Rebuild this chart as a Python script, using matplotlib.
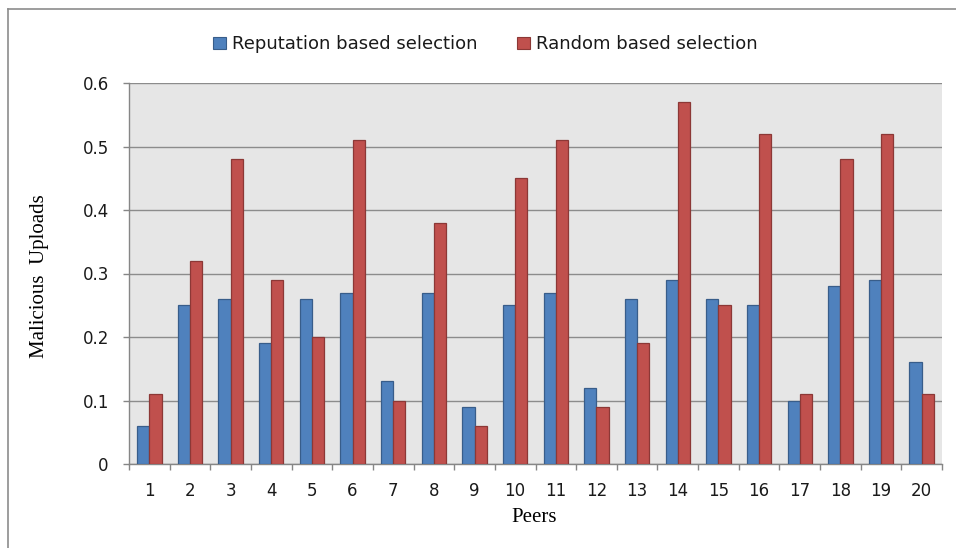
import matplotlib
matplotlib.use("Agg")
import matplotlib.pyplot as plt
import numpy as np
from matplotlib.patches import Patch
from matplotlib.lines import Line2D

peers = [str(i) for i in range(1, 21)]
reputation = [0.06, 0.25, 0.26, 0.19, 0.26, 0.27, 0.13, 0.27, 0.09, 0.25,
              0.27, 0.12, 0.26, 0.29, 0.26, 0.25, 0.10, 0.28, 0.29, 0.16]
random_sel = [0.11, 0.32, 0.48, 0.29, 0.20, 0.51, 0.10, 0.38, 0.06, 0.45,
              0.51, 0.09, 0.19, 0.57, 0.25, 0.52, 0.11, 0.48, 0.52, 0.11]
yticks = [0, 0.1, 0.2, 0.3, 0.4, 0.5, 0.6]
ytick_labels = ["0", "0.1", "0.2", "0.3", "0.4", "0.5", "0.6"]

blue, blue_edge = "#4f81bd", "#385d8a"
red, red_edge = "#c0504d", "#8c3836"

fig = plt.figure(figsize=(9.56, 5.48), dpi=100)
ax = fig.add_axes([129/956, 1-464/548, (942-129)/956, (464-83)/548])
ax.set_facecolor("#e6e6e6")

x = np.arange(len(peers))
w = 0.3
ax.bar(x - w/2, reputation, w, color=blue, edgecolor=blue_edge, linewidth=0.9, zorder=3)
ax.bar(x + w/2, random_sel, w, color=red, edgecolor=red_edge, linewidth=0.9, zorder=3)

ax.set_xlim(-0.5, len(peers) - 0.5)
ax.set_ylim(0, 0.6)
ax.set_yticks(yticks)
ax.set_yticklabels(ytick_labels)
ax.yaxis.grid(True, color="#8c8c8c", linewidth=1.0, zorder=0)
ax.set_axisbelow(True)

ax.set_xticks(x)
ax.set_xticklabels(peers)
ax.set_xticks(np.arange(-0.5, len(peers) + 0.5, 1), minor=True)
ax.tick_params(axis="x", which="major", length=0, pad=13, labelsize=12)
ax.tick_params(axis="x", which="minor", length=4.5, width=1.0, color="#868686", direction="out")
ax.tick_params(axis="y", length=4.5, width=1.0, color="#868686", pad=10, labelsize=12)
for lab in ax.get_xticklabels() + ax.get_yticklabels():
    lab.set_color("#1a1a1a")

for s in ["top", "right"]:
    ax.spines[s].set_visible(False)
for s in ["left", "bottom"]:
    ax.spines[s].set_color("#868686")
    ax.spines[s].set_linewidth(1.0)

fig.text(40/956, 1-276/548, "Malicious  Uploads", rotation=90, ha="center", va="center",
         family="Liberation Serif", fontsize=15)
fig.text(534/956, 1-517/548, "Peers", ha="center", va="center",
         family="Liberation Serif", fontsize=15)

handles = [Patch(facecolor=blue, edgecolor=blue_edge, linewidth=0.8),
           Patch(facecolor=red, edgecolor=red_edge, linewidth=0.8)]
fig.legend(handles, ["Reputation based selection", "Random based selection"],
           loc="center", bbox_to_anchor=(485/956, 1-44/548), ncol=2, frameon=False,
           fontsize=13, handlelength=0.75, handleheight=0.65, handletextpad=0.3,
           columnspacing=2.2, labelcolor="#1a1a1a")

# outer frame (left and top edges)
fig.add_artist(Line2D([8/956, 8/956], [0, 1-9/548], transform=fig.transFigure,
                      color="#8c8c8c", linewidth=1.2))
fig.add_artist(Line2D([8/956, 1], [1-9/548, 1-9/548], transform=fig.transFigure,
                      color="#8c8c8c", linewidth=1.2))

fig.savefig("out.png", dpi=100)
